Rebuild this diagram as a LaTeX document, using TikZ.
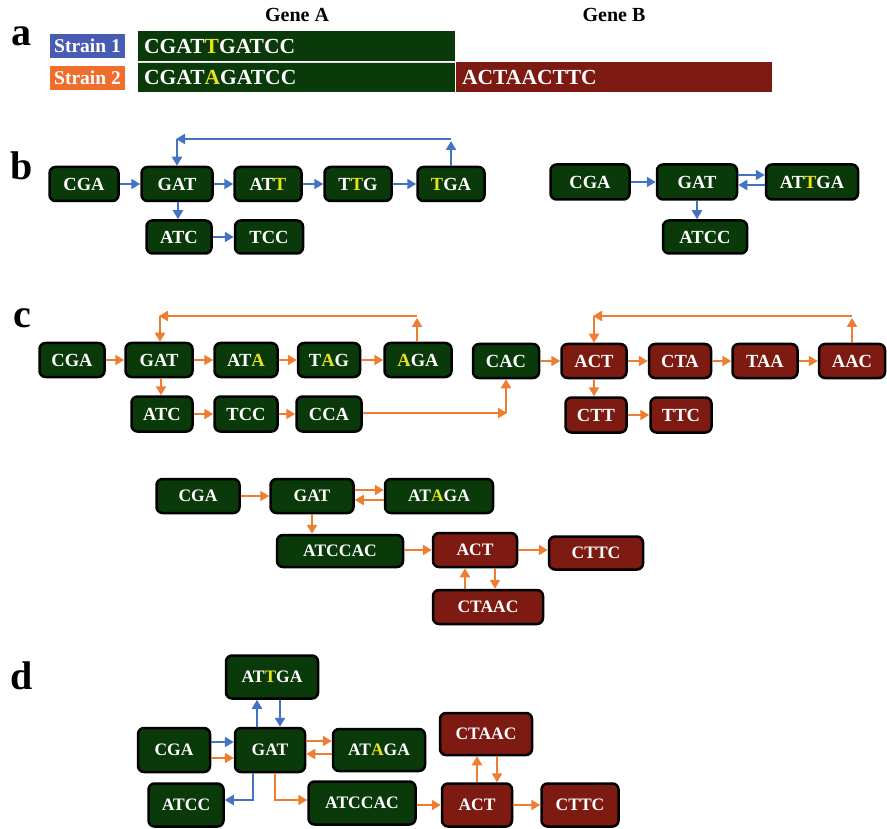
\documentclass[tikz,border=0pt]{standalone}
\usepackage{fontspec}
\setmainfont{Liberation Serif}
\usetikzlibrary{arrows.meta}
\definecolor{dgreen}{RGB}{10,58,10}
\definecolor{dred}{RGB}{125,26,18}
\definecolor{yel}{RGB}{232,226,30}
\definecolor{ablue}{RGB}{68,114,196}
\definecolor{aorange}{RGB}{237,125,49}
\definecolor{sblue}{RGB}{72,92,180}
\definecolor{sorange}{RGB}{240,110,45}
\newcommand{\Yl}[1]{\textcolor{yel}{#1}}
\begin{document}
\begin{tikzpicture}[x=1pt,y=-1pt,
  box/.style={draw=black,line width=2.5pt,rounded corners=6pt,text=white,inner sep=0pt,
    font=\bfseries\fontsize{18.5}{20}\selectfont,minimum height=34pt},
  gbox/.style={box,fill=dgreen},
  rbox/.style={box,fill=dred},
  sm/.style={font=\bfseries\fontsize{17.5}{19}\selectfont},
  barr/.style={draw=ablue,line width=2.8pt,-{Triangle[length=9pt,width=10pt]}},
  oarr/.style={draw=aorange,line width=2.8pt,-{Triangle[length=9pt,width=10pt]}},
  plab/.style={font=\bfseries\fontsize{40}{42}\selectfont,text=black,inner sep=0pt},
  glab/.style={font=\bfseries\fontsize{20}{22}\selectfont,text=black,inner sep=0pt},
  strain/.style={text=white,inner sep=0pt,minimum width=75pt,minimum height=24pt,
    font=\bfseries\fontsize{19.5}{20}\selectfont},
  seq/.style={text=white,inner sep=0pt,anchor=west,font=\bfseries\fontsize{21.5}{22}\selectfont}
]
\useasboundingbox (0,0) rectangle (887,829);

% ---------- panel a ----------
\node[plab] (la) at (22,36) {a};
\node[glab] (ga) at (297,15) {Gene A};
\node[glab] (gb) at (614,15) {Gene B};
\node[strain,fill=sblue] (s1) at (87.5,46) {Strain 1};
\node[strain,fill=sorange] (s2) at (87.5,78) {Strain 2};
\fill[dgreen] (138,31) rectangle (455,61.5);
\fill[dgreen] (138,62.5) rectangle (455,92);
\fill[dred] (455.5,62.5) rectangle (772,92);
\draw[white!75!gray,line width=0.8pt] (138,62) -- (455,62);
\node[seq] (q1) at (144,46) {CGAT\Yl{T}GATCC};
\node[seq] (q2) at (144,77) {CGAT\Yl{A}GATCC};
\node[seq] (q3) at (462,77) {ACTAACTTC};

% ---------- panel b ----------
\node[plab] (lb) at (22,166) {b};
\node[gbox,minimum width=69pt] (b1) at (84,184) {CGA};
\node[gbox,minimum width=71pt] (b2) at (177,184) {GAT};
\node[gbox,minimum width=67pt] (b3) at (268,184) {AT\Yl{T}};
\node[gbox,minimum width=67pt] (b4) at (358,184) {T\Yl{T}G};
\node[gbox,minimum width=67pt] (b5) at (451,184) {\Yl{T}GA};
\node[gbox,minimum width=65pt,minimum height=33pt] (b6) at (179,237) {ATC};
\node[gbox,minimum width=68pt,minimum height=33pt] (b7) at (269,237) {TCC};
\draw[barr] (b1) -- (b2);
\draw[barr] (b2) -- (b3);
\draw[barr] (b3) -- (b4);
\draw[barr] (b4) -- (b5);
\draw[barr] (b2.south -| 178,0) -- (b6.north -| 178,0);
\draw[barr] (b6) -- (b7);
\coordinate (bl1) at (b5.north |- 0,139);
\coordinate (bl2) at (b2.north |- 0,139);
\draw[barr] (b5.north) -- ([yshift=-2pt]bl1);
\draw[barr] (bl1) -- ([xshift=-1pt]bl2);
\draw[barr] (bl2) -- (b2.north);

\node[gbox,minimum width=79pt,minimum height=35pt] (r1) at (590,182) {CGA};
\node[gbox,minimum width=80pt,minimum height=35pt] (r2) at (697,182) {GAT};
\node[gbox,minimum width=92pt,minimum height=35pt] (r3) at (812,182) {AT\Yl{T}GA};
\node[gbox,minimum width=84pt,minimum height=33pt] (r4) at (705,237) {ATCC};
\draw[barr] (r1) -- (r2);
\draw[barr] ([yshift=7pt]r2.east) -- ([yshift=7pt]r3.west);
\draw[barr] ([yshift=-3pt]r3.west) -- ([yshift=-3pt]r2.east);
\draw[barr] (r2.south) -- (r2.south |- r4.north);

% ---------- panel c (top) ----------
\node[plab] (lc) at (22,318) {c};
\node[gbox,minimum width=65pt] (c1) at (72,360) {CGA};
\node[gbox,minimum width=67pt] (c2) at (159,360) {GAT};
\node[gbox,minimum width=63pt] (c3) at (246,360) {AT\Yl{A}};
\node[gbox,minimum width=62pt] (c4) at (329,360) {T\Yl{A}G};
\node[gbox,minimum width=67pt] (c5) at (418,360) {\Yl{A}GA};
\node[gbox,minimum width=61pt,minimum height=35pt] (c6) at (162,414) {ATC};
\node[gbox,minimum width=63pt,minimum height=35pt] (c7) at (246,414) {TCC};
\node[gbox,minimum width=65pt,minimum height=35pt] (c8) at (329,414) {CCA};
\node[gbox,minimum width=66pt] (c9) at (506,361) {CAC};
\node[rbox,minimum width=65pt] (c10) at (594,361) {ACT};
\node[rbox,minimum width=62pt] (c11) at (680,361) {CTA};
\node[rbox,minimum width=65pt] (c12) at (765,361) {TAA};
\node[rbox,minimum width=66pt] (c13) at (852,361) {AAC};
\node[rbox,minimum width=61pt,minimum height=35pt] (c14) at (596,415) {CTT};
\node[rbox,minimum width=61pt,minimum height=35pt] (c15) at (681,415) {TTC};
\draw[oarr] (c1) -- (c2);
\draw[oarr] (c2) -- (c3);
\draw[oarr] (c3) -- (c4);
\draw[oarr] (c4) -- (c5);
\draw[oarr] (c2.south -| 161,0) -- (c6.north -| 161,0);
\draw[oarr] (c6) -- (c7);
\draw[oarr] (c7) -- (c8);
\coordinate (cl1) at (417,316);
\coordinate (cl2) at (160,316);
\draw[oarr] (c5.north -| cl1) -- ([yshift=-2pt]cl1);
\draw[oarr] (cl1) -- ([xshift=-1pt]cl2);
\draw[oarr] (cl2) -- (c2.north -| cl2);
\coordinate (cc1) at (c9.south |- 0,413);
\draw[oarr] (c8.east |- cc1) -- ([xshift=1pt]cc1);
\draw[oarr] (cc1) -- (c9.south);
\draw[oarr] (c9) -- (c10);
\draw[oarr] (c10) -- (c11);
\draw[oarr] (c11) -- (c12);
\draw[oarr] (c12) -- (c13);
\draw[oarr] (c10.south) -- (c10.south |- c14.north);
\draw[oarr] (c14) -- (c15);
\coordinate (cl3) at (852,316);
\coordinate (cl4) at (594,316);
\draw[oarr] (c13.north) -- ([yshift=-2pt]cl3);
\draw[oarr] (cl3) -- ([xshift=-1pt]cl4);
\draw[oarr] (cl4) -- (c10.north);

% ---------- panel c (bottom) ----------
\node[gbox,sm,minimum width=83pt] (d1) at (198,496) {CGA};
\node[gbox,sm,minimum width=83pt] (d2) at (312,496) {GAT};
\node[gbox,sm,minimum width=108pt] (d3) at (439,496) {AT\Yl{A}GA};
\node[gbox,sm,minimum width=126pt,minimum height=32pt] (d4) at (340,551) {ATCCAC};
\node[rbox,sm,minimum width=84pt] (d5) at (475,550) {ACT};
\node[rbox,sm,minimum width=94pt,minimum height=33pt] (d6) at (596,553) {CTTC};
\node[rbox,sm,minimum width=110pt] (d7) at (488,607) {CTAAC};
\draw[oarr] (d1) -- (d2);
\draw[oarr] ([yshift=6pt]d2.east) -- ([yshift=6pt]d3.west);
\draw[oarr] ([yshift=-4pt]d3.west) -- ([yshift=-4pt]d2.east);
\draw[oarr] (d2.south) -- (d2.south |- d4.north);
\draw[oarr] (d4.east |- d5.west) -- (d5.west);
\draw[oarr] (d5.east) -- (d6.west |- d5.east);
\draw[oarr] ([xshift=-23pt]d7.north) -- ([xshift=-10pt]d5.south);
\draw[oarr] ([xshift=20pt]d5.south) -- ([xshift=7pt]d7.north);

% ---------- panel d ----------
\node[plab] (ld) at (22,676) {d};
\node[gbox,sm,minimum width=92pt,minimum height=43pt] (e1) at (272,677) {AT\Yl{T}GA};
\node[gbox,sm,minimum width=72pt,minimum height=44pt] (e2) at (174,750) {CGA};
\node[gbox,sm,minimum width=70pt,minimum height=44pt] (e3) at (270,750) {GAT};
\node[gbox,sm,minimum width=92pt,minimum height=42pt] (e4) at (379,750) {AT\Yl{A}GA};
\node[gbox,sm,minimum width=75pt,minimum height=43pt] (e5) at (186,805) {ATCC};
\node[gbox,sm,minimum width=107pt,minimum height=43pt] (e6) at (362,803) {ATCCAC};
\node[rbox,sm,minimum width=92pt,minimum height=42pt] (e7) at (486,734) {CTAAC};
\node[rbox,sm,minimum width=70pt,minimum height=43pt] (e8) at (477,805) {ACT};
\node[rbox,sm,minimum width=77pt,minimum height=43pt] (e9) at (580,805) {CTTC};
\draw[barr] ([xshift=-13pt]e3.north) -- ([xshift=-15pt]e1.south);
\draw[barr] ([xshift=8pt]e1.south) -- ([xshift=10pt]e3.north);
\draw[barr] ([yshift=8pt]e2.east) -- ([yshift=8pt]e3.west);
\draw[oarr] ([yshift=-8pt]e2.east) -- ([yshift=-8pt]e3.west);
\draw[oarr] ([yshift=9pt]e3.east) -- ([yshift=9pt]e4.west);
\draw[oarr] ([yshift=-4pt]e4.west) -- ([yshift=-4pt]e3.east);
\draw[barr] ([xshift=-17pt]e3.south) |- ([yshift=5pt]e5.east);
\draw[oarr] ([xshift=5pt]e3.south) |- ([yshift=3pt]e6.west);
\draw[oarr] (e6.east |- e8.west) -- (e8.west);
\draw[oarr] (e8.north) -- (e8.north |- e7.south);
\draw[oarr] ([xshift=11pt]e7.south) -- ([xshift=20pt]e8.north);
\draw[oarr] (e8.east) -- (e9.west |- e8.east);
\end{tikzpicture}
\end{document}
